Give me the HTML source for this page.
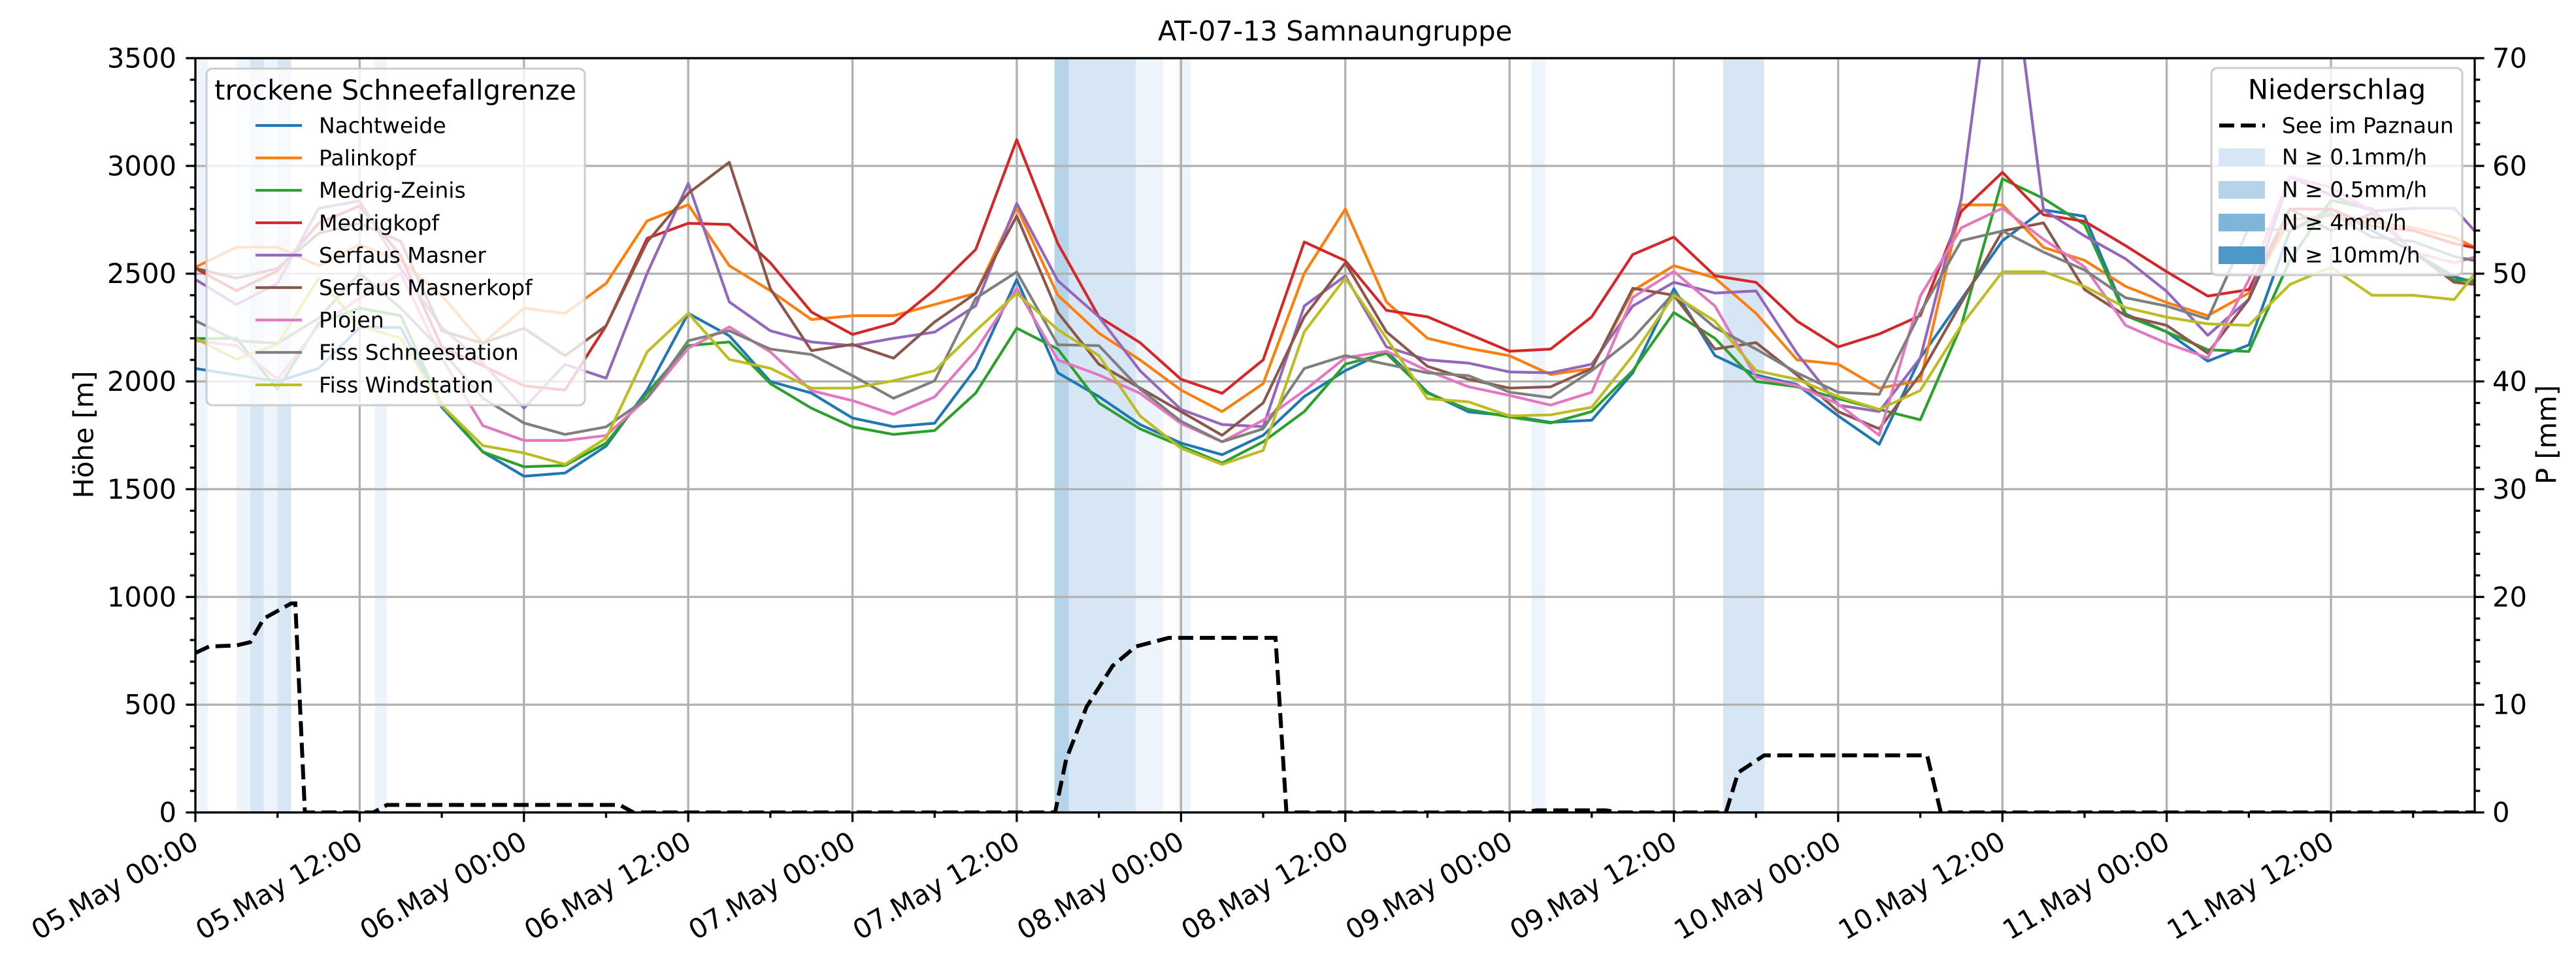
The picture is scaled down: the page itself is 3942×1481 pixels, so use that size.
<!DOCTYPE html>
<html><head><meta charset="utf-8"><style>
html,body{margin:0;padding:0;background:#fff}
svg{display:block;font-family:"DejaVu Sans","Liberation Sans",sans-serif}
</style></head><body>
<svg id="chart" width="3942" height="1481" viewBox="0 0 3942 1481" xmlns="http://www.w3.org/2000/svg">
<defs><clipPath id="plotclip"><rect x="299" y="89" width="3488" height="1154"/></clipPath></defs>
<rect x="0" y="0" width="3942" height="1481" fill="#fff"/>
<text x="2043" y="62" font-size="41.7" text-anchor="middle">AT-07-13 Samnaungruppe</text>
<g id="bands" clip-path="url(#plotclip)"></g>
<g id="grid"></g>
<g id="series" clip-path="url(#plotclip)"></g>
<g id="precip" clip-path="url(#plotclip)"></g>
<g id="axes"></g>
<text transform="translate(128,665) rotate(-90)" font-size="41.7" text-anchor="middle" dominant-baseline="central">Höhe [m]</text>
<text transform="translate(3897,665) rotate(-90)" font-size="41.7" text-anchor="middle" dominant-baseline="central">P [mm]</text>
<g id="legend1"></g>
<g id="legend2"></g>
</svg>
<script>
const hours = [0,3,6,9,12,15,18,21,24,27,30,33,36,39,42,45,48,51,54,57,60,63,66,69,72,75,78,81,84,87,90,93,96,99,102,105,108,111,114,117,120,123,126,129,132,135,138,141,144,147,150,153,156,159,162,165,166.5];
const nachtweide = [2060,2030,2000,2060,2250,2250,1880,1673,1560,1575,1700,1960,2316,2212,2000,1946,1830,1790,1806,2061,2473,2040,1930,1800,1714,1660,1750,1930,2050,2140,1950,1859,1841,1810,1820,2040,2430,2120,2030,1985,1840,1708,2109,2381,2653,2796,2766,2313,2230,2094,2169,2700,2800,2700,2600,2486,2460];
const palinkopf = [2530,2623,2623,2537,2635,2560,2398,2177,2340,2316,2455,2745,2820,2537,2421,2287,2305,2305,2357,2409,2809,2400,2224,2100,1960,1860,1990,2502,2800,2369,2200,2154,2119,2032,2060,2421,2537,2480,2316,2100,2080,1969,2003,2819,2819,2622,2562,2441,2366,2305,2411,2750,2770,2740,2713,2668,2622];
const medrigZeinis = [2199,2200,1963,2270,2340,2305,1888,1673,1604,1610,1714,1946,2166,2183,1990,1876,1789,1754,1772,1946,2247,2150,1900,1780,1700,1621,1720,1860,2080,2130,1946,1870,1835,1807,1860,2050,2320,2200,2000,1975,1920,1870,1822,2260,2940,2849,2728,2305,2230,2147,2139,2562,2840,2800,2600,2470,2470];
const medrigkopf = [2525,2421,2513,2734,2815,2583,2160,2073,1980,1960,2258,2664,2734,2728,2550,2322,2218,2270,2426,2612,3122,2640,2300,2180,2010,1945,2100,2647,2560,2330,2300,2220,2140,2150,2300,2589,2670,2490,2460,2280,2160,2220,2305,2789,2970,2773,2743,2630,2509,2396,2426,2800,2800,2720,2700,2640,2620];
const serfausMasner = [2473,2357,2455,2803,2838,2525,2250,2085,1876,2079,2015,2502,2919,2369,2235,2183,2166,2200,2229,2351,2826,2467,2300,2050,1870,1800,1790,2350,2490,2160,2100,2085,2044,2040,2080,2350,2460,2410,2420,2130,1890,1860,2109,2849,4300,2796,2675,2569,2418,2214,2381,2950,2864,2790,2804,2804,2698];
const serfausMasnerkopf = [2525,2479,2525,2687,2734,2650,2235,2177,2247,2119,2258,2647,2873,3017,2430,2143,2172,2108,2276,2409,2768,2320,2080,1970,1860,1750,1900,2300,2550,2230,2070,2010,1969,1975,2060,2432,2400,2150,2180,2030,1860,1780,2033,2366,2698,2736,2426,2305,2260,2131,2381,2800,2700,2780,2600,2460,2450];
const plojen = [2189,2166,2009,2258,2386,2502,2108,1795,1726,1726,1749,1922,2154,2253,2137,1957,1911,1847,1928,2143,2432,2100,2030,1945,1805,1720,1820,1957,2110,2140,2050,1975,1935,1890,1950,2390,2510,2350,2020,1980,1895,1750,2396,2713,2804,2660,2532,2260,2177,2109,2471,2950,2900,2790,2600,2550,2577];
const fissSchneestation = [2282,2189,2177,2293,2502,2340,2143,1922,1807,1754,1789,1922,2189,2235,2150,2125,2027,1922,2003,2386,2508,2170,2166,1965,1815,1720,1780,2060,2120,2080,2040,2027,1950,1925,2050,2200,2410,2250,2150,2040,1950,1940,2320,2653,2698,2600,2517,2388,2350,2290,2713,2700,2780,2670,2650,2580,2560];
const fissWindstation = [2200,2102,2172,2479,2258,2200,1888,1702,1668,1615,1737,2137,2316,2102,2061,1969,1969,2003,2050,2235,2409,2240,2120,1840,1690,1615,1680,2230,2480,2200,1920,1905,1840,1845,1880,2120,2400,2280,2050,2010,1930,1870,1958,2260,2509,2509,2441,2343,2298,2267,2260,2450,2530,2400,2400,2380,2500];
const seriesNames = ["Nachtweide","Palinkopf","Medrig-Zeinis","Medrigkopf","Serfaus Masner","Serfaus Masnerkopf","Plojen","Fiss Schneestation","Fiss Windstation"];
const precipHours = [0,1,3,4,5,7,7.3,8,13,14,31,32,62.8,63.6,65.1,67,68.7,71.1,78.9,79.7,97,98,103,104,111.8,112.7,114.6,126.5,127.5,166.5];
const precipValues = [14.8,15.4,15.5,15.8,18,19.4,19.4,0,0,0.7,0.7,0,0,4.9,9.8,13.6,15.4,16.2,16.2,0,0,0.2,0.2,0,0,3.7,5.3,5.3,0,0];
const bandStart = [0,3,4,5,6,13.1,62.75,63.8,68.7,71.8,97.6,111.6];
const bandEnd = [0.9,4,5,6,7,14,63.8,68.7,70.7,72.7,98.6,114.6];
const bandLevel = [0,0,1,0,1,0,2,1,0,0,0,1];
const yTicks = [0,500,1000,1500,2000,2500,3000,3500];
const y2Ticks = [0,10,20,30,40,50,60,70];
const xTickHours = [0,12,24,36,48,60,72,84,96,108,120,132,144,156];
const xTickLabels = ["05.May 00:00","05.May 12:00","06.May 00:00","06.May 12:00","07.May 00:00","07.May 12:00","08.May 00:00","08.May 12:00","09.May 00:00","09.May 12:00","10.May 00:00","10.May 12:00","11.May 00:00","11.May 12:00"];
const precipLegendLabels = ["N ≥ 0.1mm/h","N ≥ 0.5mm/h","N ≥ 4mm/h","N ≥ 10mm/h"];

const colors = ["#1f77b4","#ff7f0e","#2ca02c","#d62728","#9467bd","#8c564b","#e377c2","#7f7f7f","#bcbd22"];
const bandColors = ["#eef4fb","#d6e6f4","#b6d4e9","#7fb5d8","#4b98c9"];
const allSeries = [nachtweide,palinkopf,medrigZeinis,medrigkopf,serfausMasner,serfausMasnerkopf,plojen,fissSchneestation,fissWindstation];
const L=299,R=3787,T=89,B=1243,XMAX=166.5,YMAX=3500,PMAX=70;
const X=h=>L+h*(R-L)/XMAX;
const Y=m=>B-m*(B-T)/YMAX;
const Y2=p=>B-p*(B-T)/PMAX;
const NS="http://www.w3.org/2000/svg";
function mk(tag,attrs,parent){const e=document.createElementNS(NS,tag);for(const k in attrs)e.setAttribute(k,attrs[k]);parent.appendChild(e);return e;}

const gB=document.getElementById('bands');
bandStart.forEach((s,i)=>{
  const r=mk('rect',{x:X(s),y:T,width:X(bandEnd[i])-X(s),height:B-T,fill:bandColors[bandLevel[i]]},gB);
  
  
});

const gG=document.getElementById('grid');
xTickHours.forEach(h=>{
  const l=mk('line',{x1:X(h),x2:X(h),y1:T,y2:B,stroke:'#b0b0b0','stroke-width':3.3},gG);
  
  
});
yTicks.forEach(v=>{
  const l=mk('line',{x1:L,x2:R,y1:Y(v),y2:Y(v),stroke:'#b0b0b0','stroke-width':3.3},gG);
  
  
});

const gS=document.getElementById('series');
allSeries.forEach((vals,i)=>{
  const pts=vals.map((v,j)=>X(hours[j]).toFixed(1)+','+Y(v).toFixed(1)).join(' ');
  const p=mk('polyline',{points:pts,fill:'none',stroke:colors[i],'stroke-width':4.2,'stroke-linejoin':'round'},gS);
  
  
});

const gP=document.getElementById('precip');
const pp=mk('polyline',{points:precipValues.map((v,j)=>X(precipHours[j]).toFixed(1)+','+Y2(v).toFixed(1)).join(' '),fill:'none',stroke:'#000','stroke-width':6,'stroke-dasharray':'23 10'},gP);



const gA=document.getElementById('axes');
const frame=mk('rect',{x:L,y:T,width:R-L,height:B-T,fill:'none',stroke:'#000','stroke-width':3.3},gA);


for(let v=0;v<=YMAX;v+=100){
  const major=v%500===0;
  const t=mk('line',{x1:L,x2:L-(major?14.6:8.3),y1:Y(v),y2:Y(v),stroke:'#000','stroke-width':3.3},gA);
  
  
}
yTicks.forEach(v=>{
  const t=mk('text',{x:L-29,y:Y(v),'font-size':41.7,'text-anchor':'end','dominant-baseline':'central'},gA);
  t.textContent=String(v);
  
  
});
for(let v=0;v<=PMAX;v+=2){
  const major=v%10===0;
  const t=mk('line',{x1:R,x2:R+(major?14.6:8.3),y1:Y2(v),y2:Y2(v),stroke:'#000','stroke-width':3.3},gA);
  
  
}
y2Ticks.forEach(v=>{
  const t=mk('text',{x:R+27,y:Y2(v),'font-size':41.7,'text-anchor':'start','dominant-baseline':'central'},gA);
  t.textContent=String(v);
  
  
});
for(let h=0;h<=XMAX;h+=6){
  const major=h%12===0;
  const t=mk('line',{x1:X(h),x2:X(h),y1:B,y2:B+(major?14.6:8.3),stroke:'#000','stroke-width':3.3},gA);
  
  
}
xTickHours.forEach((h,i)=>{
  const t=mk('text',{transform:'translate('+(X(h)-8)+','+(B+26)+') rotate(-30)','font-size':41.7,'text-anchor':'end','dominant-baseline':'hanging'},gA);
  t.textContent=xTickLabels[i];
  
  
});

const g1=document.getElementById('legend1');
const f1=mk('rect',{x:316,y:105,width:579,height:515,rx:9,fill:'#fff','fill-opacity':0.8,stroke:'#cccccc','stroke-width':3},g1);


const t1=mk('text',{x:605,y:138,'font-size':41.7,'text-anchor':'middle','dominant-baseline':'central'},g1);
t1.textContent='trockene Schneefallgrenze';


seriesNames.forEach((n,i)=>{
  const y=192+i*49.6;
  const l=mk('line',{x1:391,x2:462,y1:y,y2:y,stroke:colors[i],'stroke-width':4.2},g1);
  
  
  const t=mk('text',{x:488,y:y,'font-size':33,'dominant-baseline':'central'},g1);
  t.textContent=n;
  
  
});

const g2=document.getElementById('legend2');
const f2=mk('rect',{x:3384,y:104,width:384,height:317,rx:9,fill:'#fff','fill-opacity':0.8,stroke:'#cccccc','stroke-width':3},g2);


const t2=mk('text',{x:3576,y:137,'font-size':41.7,'text-anchor':'middle','dominant-baseline':'central'},g2);
t2.textContent='Niederschlag';


const dl=mk('line',{x1:3396,x2:3466,y1:192,y2:192,stroke:'#000','stroke-width':6,'stroke-dasharray':'23 10'},g2);


const dt=mk('text',{x:3492,y:192,'font-size':33,'dominant-baseline':'central'},g2);
dt.textContent='See im Paznaun';


precipLegendLabels.forEach((s,i)=>{
  const y=240+i*50;
  const r=mk('rect',{x:3395,y:y-13,width:71,height:27,fill:bandColors[i+1]},g2);
  
  
  const t=mk('text',{x:3492,y:y,'font-size':33,'dominant-baseline':'central'},g2);
  t.textContent=s;
  
  
});
</script>
</body></html>
